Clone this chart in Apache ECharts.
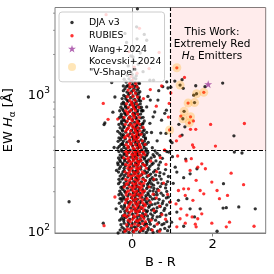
<!DOCTYPE html>
<html><head><meta charset="utf-8">
<script src="https://cdn.jsdelivr.net/npm/echarts@6/dist/echarts.min.js"></script>
<style>html,body{margin:0;padding:0;background:#fff}#c{width:274px;height:274px}</style>
</head><body><div id="c"></div>
<script>
const xMin = -1.92, xMax = 3.32, yMin = 100, yMax = 4400;
const colorCut = 0.95, ewCut = 400;
const xTickValues = [0, 2];
const yMinorTicks = [200,300,400,500,600,700,800,900,2000,3000,4000];

const djaPoints = [
[-0.22,102],[-0.15,104],[-0.08,101],[0.02,103],[0.10,105],[0.18,102],[0.27,104],[0.35,101],[0.47,106],[0.63,103],[0.81,108],
[-0.25,110],[-0.12,112],[-0.03,109],[0.05,111],[0.14,113],[0.22,110],[0.31,114],[0.40,109],[0.55,112],[0.74,115],[0.92,111],
[-0.20,118],[-0.10,121],[0.00,117],[0.08,120],[0.16,119],[0.25,122],[0.33,118],[0.43,121],[0.58,124],[0.86,121],
[-0.27,127],[-0.16,130],[-0.06,126],[0.03,129],[0.12,131],[0.20,127],[0.29,130],[0.38,133],[0.50,128],[0.69,132],
[-0.18,138],[-0.09,141],[0.01,137],[0.09,140],[0.18,143],[0.26,139],[0.36,142],[0.46,138],[0.60,144],[0.79,146],[0.93,139],
[-0.23,150],[-0.13,148],[-0.04,152],[0.06,149],[0.15,153],[0.23,151],[0.32,147],[0.41,154],[0.53,150],[0.70,156],
[-0.19,160],[-0.08,163],[0.02,158],[0.11,162],[0.19,165],[0.28,159],[0.37,164],[0.49,161],[0.64,166],[0.86,160],
[-0.26,171],[-0.14,174],[-0.05,169],[0.04,173],[0.13,176],[0.21,170],[0.30,175],[0.42,172],[0.56,178],[0.77,171],
[-0.21,183],[-0.11,186],[-0.02,181],[0.07,185],[0.16,188],[0.24,182],[0.34,187],[0.45,184],[0.62,190],[0.90,183],
[-0.28,195],[-0.17,198],[-0.07,193],[0.03,197],[0.12,200],[0.20,194],[0.29,199],[0.39,196],[0.52,202],[0.72,195],
[-0.24,208],[-0.12,212],[-0.03,206],[0.08,210],[0.17,214],[0.26,207],[0.36,211],[0.47,216],[0.63,209],[0.83,213],
[-0.19,222],[-0.09,225],[0.01,220],[0.10,224],[0.19,228],[0.28,221],[0.38,226],[0.53,223],[0.74,229],
[-0.30,236],[-0.15,240],[-0.05,234],[0.05,238],[0.14,243],[0.23,236],[0.33,241],[0.44,238],[0.60,245],[0.88,237],
[-0.22,252],[-0.11,256],[-0.01,250],[0.09,254],[0.18,259],[0.27,251],[0.37,257],[0.50,253],[0.68,260],
[-0.26,268],[-0.14,272],[-0.04,266],[0.06,270],[0.15,275],[0.24,267],[0.34,273],[0.46,269],[0.79,270],
[-0.20,285],[-0.08,289],[0.02,283],[0.12,287],[0.21,292],[0.31,284],[0.42,290],[0.57,286],
[-0.29,305],[-0.17,309],[-0.06,302],[0.04,307],[0.13,312],[0.22,304],[0.32,310],[0.44,306],[0.66,313],
[-0.23,322],[-0.12,327],[-0.02,319],[0.08,324],[0.17,330],[0.26,321],[0.37,328],[0.52,323],
[-0.31,340],[-0.18,345],[-0.07,337],[0.03,343],[0.12,349],[0.21,339],[0.30,346],[0.41,341],[0.75,350],
[-0.25,360],[-0.14,366],[-0.04,357],[0.06,363],[0.15,369],[0.25,359],[0.35,365],[0.55,361],
[-0.20,380],[-0.09,386],[0.01,377],[0.10,383],[0.19,390],[0.28,379],[0.39,386],[0.62,381],
[-0.27,405],[-0.15,411],[-0.05,402],[0.05,408],[0.14,415],[0.24,404],[0.35,410],[0.50,418],
[-0.32,428],[-0.20,434],[-0.09,424],[0.01,431],[0.10,438],[0.19,427],[0.29,435],
[-0.24,452],[-0.13,459],[-0.03,448],[0.07,456],[0.16,463],[0.26,451],[0.40,458],
[-0.29,478],[-0.17,486],[-0.06,474],[0.03,482],[0.12,490],[0.22,477],[0.33,485],
[-0.22,505],[-0.10,513],[0.00,501],[0.09,509],[0.18,518],[0.28,504],
[-0.31,535],[-0.16,543],[-0.05,530],[0.05,539],[0.14,548],[0.24,533],[0.36,541],
[-0.25,566],[-0.12,575],[-0.02,561],[0.08,570],[0.17,580],[0.30,565],
[-0.20,600],[-0.08,609],[0.02,594],[0.11,604],[0.21,615],
[-0.27,636],[-0.14,645],[-0.04,629],[0.06,640],[0.16,651],[0.27,633],
[-0.21,673],[-0.09,683],[0.01,666],[0.10,678],[0.22,690],
[-0.28,712],[-0.15,723],[-0.05,705],[0.05,717],[0.15,730],
[-0.19,755],[-0.07,766],[0.03,748],[0.12,760],[0.24,772],
[-0.24,800],[-0.12,812],[-0.02,792],[0.08,806],[0.19,818],
[-0.17,848],[-0.05,860],[0.04,840],[0.14,854],
[-0.22,898],[-0.10,911],[0.00,890],[0.10,905],[0.21,918],
[-0.16,950],[-0.04,965],[0.06,942],[0.16,958],
[-0.21,1005],[-0.09,1020],[0.02,998],[0.12,1012],
[-0.13,1065],[-0.01,1080],[0.09,1055],[0.19,1072],
[-0.18,1125],[-0.06,1142],[0.05,1118],[0.15,1135],
[-0.11,1190],[0.01,1208],[0.11,1182],
[-0.15,1260],[-0.03,1278],[0.07,1250],
[-0.08,1330],[0.04,1348],
[-0.12,1410],[0.00,1430],[0.10,1400],
[-0.05,1500],[0.08,1560],[-0.10,1650],[0.15,1700],[0.02,1800],[-0.03,1950],[0.20,2050],[0.05,2250],[-0.14,2450],[0.12,2600],[0.30,2800],[0.13,4300],
[-0.18,2850],[0.36,2540],[0.02,1920],[0.27,1500],[0.11,3180],[0.44,1300]
];

const djaCoreExtra = [
[-0.30,105],[-0.28,115],[-0.31,124],[-0.24,133],[-0.29,143],[-0.27,156],[-0.32,165],[-0.30,178],[-0.33,190],[-0.31,202],[-0.28,215],[-0.34,229],[-0.33,246],[-0.30,260],[-0.34,278],[-0.32,295],[-0.35,315],[-0.29,331],[-0.34,352],[-0.30,370],[-0.33,392],[-0.36,416],[-0.28,442],[-0.35,466],[-0.33,493],[-0.27,520],[-0.36,551],[-0.30,585],[-0.33,618],[-0.26,655],[-0.32,692],[-0.27,735],[-0.31,778],[-0.28,825],[-0.26,872],[-0.25,955],
[-0.20,107],[0.09,109],[0.24,106],[0.39,105],
[-0.09,116],[0.19,117],[0.36,116],
[-0.21,123],[0.13,125],[0.40,126],
[-0.11,133],[0.18,134],[0.31,135],
[-0.18,144],[0.11,146],[0.38,145],
[-0.19,155],[0.17,157],[0.43,158],
[-0.11,167],[0.09,168],[0.35,169],
[-0.20,177],[0.08,178],[0.34,180],
[-0.25,189],[0.10,191],[0.40,190],
[-0.19,203],[0.16,204],[0.44,203],
[-0.24,217],[0.12,218],[0.39,217],
[-0.20,231],[0.09,232],[0.41,231],
[-0.25,247],[0.12,248],[0.45,246],
[-0.19,263],[0.15,262],[0.42,263],
[-0.23,279],[0.08,280],[0.38,278],
[-0.20,297],[0.14,298],[0.40,296],
[-0.24,316],[0.11,317],[0.36,316],
[-0.19,335],[0.15,334],[0.35,334],
[-0.26,353],[0.09,354],[0.31,353],
[-0.20,373],[0.13,374],[0.37,373],
[-0.25,394],[0.12,393],[0.33,395],
[-0.21,419],[0.15,418],[0.30,419],
[-0.25,443],[0.13,442],[0.35,444],
[-0.22,468],[0.09,469],[0.30,467],
[-0.27,495],[0.11,496],[0.33,494],
[-0.22,522],[0.14,523],[0.30,521],
[-0.24,553],[0.12,554],[0.27,552],
[-0.21,587],[0.09,586],[0.25,588],
[-0.24,620],[0.13,621],[0.26,622],
[-0.19,656],[0.16,657],[0.30,655],
[-0.24,696],[0.10,695],[0.27,697],
[-0.18,737],[0.06,738],[0.21,736],
[-0.22,780],[0.14,781],[0.27,779],
[-0.17,826],[0.09,827],[0.23,825],
[-0.20,875],[0.07,876],[0.20,874],
[-0.12,926],[0.17,925],
[-0.16,985],[0.18,980],
[-0.07,1045],[0.16,1040],[-0.22,1090],[0.13,1100],[-0.14,1170],[0.06,1170],[0.18,1230],[-0.20,1320],[0.09,1330]
];

const djaTail = [
[0.52,101],[0.70,106],[0.88,104],[0.45,116],[0.66,119],[0.79,117],[0.51,134],[0.62,131],[0.84,135],[0.56,141],[0.72,139],[0.48,147],[0.62,153],[0.81,151],[0.57,163],[0.75,164],[0.93,168],[0.50,177],[0.67,176],[0.85,180],[0.55,190],[0.77,188],[0.60,199],[0.86,201],[0.54,211],[0.70,218],[0.48,229],[0.64,232],[0.84,226],[0.53,243],[0.72,247],[0.58,264],[0.90,258],[0.53,278],[0.69,275],[0.65,295],[0.83,290],[0.49,316],[0.59,335],[0.70,328],[0.47,352],[0.68,368],[0.52,372],[0.86,392],[0.57,396]
];

const djaOutliers = [
[-1.09,980],[-1.34,466],[-0.70,617],[-1.57,169],[-0.72,118],[-0.43,980],[-0.36,324],[-0.35,100],[-0.51,1250],[-0.68,634],[-0.45,420],[-0.39,286],[-0.26,178],[-0.21,127],[-0.22,1180],[-0.40,150],[-0.48,760],
[0.16,1245],[0.53,1300],[0.66,1090],[0.45,930],[0.24,786],[0.85,786],[0.71,535],[0.86,1265],[0.39,990],[0.64,930],[0.76,1166],[0.89,1140],[0.52,703],[0.73,664],[0.36,830],[0.56,762],[0.44,630],[0.48,540],[0.62,470],[0.81,745],[0.84,532],[0.99,455],[0.95,470],
[1.06,1280],[1.24,1310],[1.58,1183],[1.81,1166],[2.25,1238],[0.96,1155],[1.27,1134],[1.53,1010],[1.16,620],[1.31,594],[2.53,511],[1.24,517],
[1.19,1197],[1.60,1035],[1.55,892],[1.29,770],[1.26,680],
[0.91,389],[1.07,302],[1.11,278],[1.44,270],[1.28,253],[2.27,229],[1.61,294],[1.36,178],[1.15,173],[1.44,150],[1.69,150],[2.26,152],[2.34,153],[2.65,155],[3.06,150],[1.55,131],[1.28,112],[2.11,103],[1.11,142],[1.33,346],[2.54,389],[2.73,383],[1.00,360],[1.02,230],[0.98,120]
];

const rubiesPoints = [
[-0.18,103],[-0.06,106],[0.04,102],[0.12,107],[0.21,104],[0.30,108],[0.50,105],[0.68,103],
[-0.14,115],[-0.02,113],[0.07,116],[0.16,114],[0.26,117],[0.36,112],[0.62,116],
[-0.10,124],[0.01,126],[0.10,123],[0.19,125],[0.29,127],[0.47,124],[0.83,126],
[-0.21,134],[-0.07,135],[0.04,133],[0.13,136],[0.23,134],[0.33,137],[0.74,136],
[-0.13,145],[-0.01,146],[0.08,144],[0.18,147],[0.28,145],[0.54,146],
[-0.09,156],[0.03,155],[0.12,157],[0.22,154],[0.33,158],[0.68,157],
[-0.17,166],[-0.03,167],[0.07,165],[0.16,168],[0.26,166],[0.45,167],[0.95,168],
[-0.11,178],[0.00,179],[0.10,177],[0.19,180],[0.37,178],[0.60,180],
[-0.15,190],[-0.04,191],[0.06,189],[0.15,192],[0.25,190],[0.52,192],[0.88,191],
[-0.09,203],[0.02,204],[0.11,202],[0.21,205],[0.31,203],[0.66,204],
[-0.20,216],[-0.06,217],[0.05,215],[0.14,218],[0.24,216],[0.42,217],
[-0.12,230],[0.00,231],[0.09,229],[0.18,232],[0.29,230],[0.78,231],
[-0.16,246],[-0.04,247],[0.07,245],[0.17,248],[0.27,246],[0.54,247],
[-0.09,262],[0.03,263],[0.12,261],[0.21,264],[0.40,262],
[-0.18,279],[-0.06,280],[0.04,278],[0.14,281],[0.25,279],[0.61,280],
[-0.11,297],[0.00,298],[0.10,296],[0.19,299],[0.35,297],
[-0.16,316],[-0.04,317],[0.07,315],[0.16,318],[0.27,316],[0.84,316],
[-0.08,334],[0.03,335],[0.13,333],[0.22,336],[0.46,334],
[-0.21,353],[-0.09,354],[0.01,352],[0.11,355],[0.20,353],[0.70,354],
[-0.13,373],[-0.01,374],[0.08,372],[0.18,375],[0.31,373],
[-0.17,393],[-0.05,394],[0.05,392],[0.15,395],[0.25,393],[0.80,402],
[-0.10,418],[0.02,419],[0.12,417],[0.21,420],
[-0.15,442],[-0.03,443],[0.08,441],[0.18,444],[0.32,442],
[-0.08,468],[0.03,469],[0.14,467],[0.25,470],
[-0.19,495],[-0.06,496],[0.05,494],[0.15,497],
[-0.11,522],[0.00,523],[0.11,521],[0.22,524],
[-0.16,553],[-0.04,554],[0.08,552],[0.19,555],
[-0.09,586],[0.03,587],[0.14,585],[0.27,588],
[-0.17,620],[-0.05,621],[0.06,619],[0.18,622],
[-0.12,656],[0.00,657],[0.12,655],
[-0.20,695],[-0.07,696],[0.05,694],[0.17,697],
[-0.11,737],[0.01,738],[0.13,736],
[-0.16,780],[-0.04,781],[0.08,779],
[-0.09,826],[0.03,827],[0.16,825],
[-0.14,875],[-0.01,876],[0.11,874],
[-0.06,925],[0.07,926],
[-0.12,985],[0.02,990],[0.13,980],
[-0.04,1045],[0.08,1040],
[-0.10,1100],[0.04,1095],
[0.00,1165],[0.12,1160],
[-0.06,1230],[0.09,1225],
[0.01,1300],[-0.03,1380],[0.12,1460],[0.05,1620],[-0.08,2100],[0.18,3100]
];

const rubiesCoreExtra = [
[-0.12,107],[0.08,106],[0.26,107],
[-0.05,121],[0.14,122],[0.33,121],
[-0.14,131],[0.07,131],[0.25,132],
[-0.05,142],[0.14,143],
[-0.13,152],[0.08,151],[0.27,152],
[-0.06,162],[0.13,161],[0.31,162],
[-0.15,174],[0.05,173],[0.25,174],
[0.02,187],[0.20,188],
[-0.13,199],[0.07,198],[0.26,199],
[0.00,213],[0.19,214],
[-0.15,226],[0.05,225],[0.23,226],
[-0.08,241],[0.12,240],[0.32,241],
[-0.03,258],[0.16,259],
[-0.10,273],[0.09,272],[0.29,273],
[-0.04,292],[0.15,293],
[-0.09,311],[0.11,310],[0.31,311],
[-0.03,329],[0.17,330],
[-0.12,347],[0.09,346],
[0.02,367],[0.22,368],
[-0.13,387],[0.08,386],[0.28,387],
[0.04,409],[-0.11,430],[0.19,432],[-0.04,456],[0.10,481],[-0.15,508],[0.05,507],[0.12,537],[-0.13,569],[0.07,568],[-0.01,604],[0.13,637],[-0.03,676],[0.04,717],[-0.12,758],[0.05,804],[0.01,851],[-0.02,900]
];

const rubiesOutliers = [
[-0.72,880],[-0.60,674],[-0.70,113],[-0.43,183],[-0.36,676],[-0.65,3900],[-0.18,135],[-0.06,1166],
[0.28,955],[0.45,1110],[0.60,840],[0.73,1180],[0.67,2070],[0.42,1580],[0.92,880],[0.90,700],[0.81,402],
[1.30,1360],[0.96,1050],[1.21,711],[1.52,656],[1.45,570],[1.58,570],[1.95,618],[2.79,628],[1.19,508],[1.10,470],[1.50,438],[1.53,421],[2.07,430],
[1.11,1600],[1.78,1060],[1.39,885],[1.45,703],[1.42,635],[0.93,563],
[1.13,364],[1.34,335],[1.47,348],[1.63,302],[1.73,319],[1.82,294],[1.44,286],[1.98,235],[2.46,273],[2.77,225],[1.59,242],[1.69,204],[1.28,210],[1.40,210],[1.15,204],[1.78,193],[2.11,204],[2.37,188],[2.17,178],[1.32,188],[1.51,173],[1.09,163],[1.21,150],[1.36,135],[1.49,131],[1.63,127],[1.73,138],[1.19,127],[1.32,118],[1.57,116],[1.59,111],[1.98,118],[2.42,120],[2.34,111],[3.03,112],[1.11,111]
];

const wangPoints = [[1.89,1216]];
const kocevskiPoints = [[1.11,1600],[1.19,1197],[1.60,1035],[1.78,1060],[1.39,885],[1.55,892],[1.29,770],[1.45,703],[1.26,680],[1.42,635],[0.93,563]];

const seriesNames = ['DJA v3','RUBIES','Wang+2024','Kocevski+2024\n"V-Shape"'];

const FONT = 'DejaVu Sans';
const starPath = 'path://M5,0L6.12,3.45L9.76,3.45L6.82,5.59L7.94,9.05L5,6.91L2.06,9.05L3.18,5.59L0.24,3.45L3.88,3.45Z';
const legDot = 'path://M0,0M18,12M4.3,6A1.7,1.7,0,1,0,7.7,6A1.7,1.7,0,1,0,4.3,6Z';
const legStar = 'path://M0,0M18,12M6,1.8L6.94,4.71L9.99,4.7L7.52,6.49L8.47,9.4L6,7.6L3.53,9.4L4.48,6.49L2.01,4.7L5.06,4.71Z';
const legCircle = 'path://M0,0M18,12M2,6A4,4,0,1,0,10,6A4,4,0,1,0,2,6Z';
const axisGray = '#808080';

const chart = echarts.init(document.getElementById('c'), null, {renderer: 'canvas'});
chart.setOption({
  animation: false,
  grid: {left: 55, right: 8.3, top: 7.5, bottom: 41, containLabel: false, outerBoundsMode: 'none',
         show: true, borderColor: axisGray, borderWidth: 1, backgroundColor: 'transparent'},
  xAxis: {
    type: 'value', min: xMin, max: xMax,
    name: 'B - R', nameLocation: 'middle', nameGap: 14,
    nameTextStyle: {fontFamily: FONT, fontSize: 13, color: '#000'},
    axisLine: {show: true, lineStyle: {color: axisGray}},
    axisTick: {show: true, length: 3.5, lineStyle: {color: axisGray}, customValues: xTickValues},
    axisLabel: {fontFamily: FONT, fontSize: 13, color: '#000', margin: 5, customValues: xTickValues},
    splitLine: {show: false}
  },
  yAxis: {
    type: 'log', logBase: 10, min: yMin, max: yMax,
    name: 'EW {i|H}{sub|α} [Å]', nameLocation: 'middle', nameGap: 22, nameRotate: 90,
    nameTextStyle: {fontFamily: FONT, fontSize: 13, color: '#000', lineHeight: 16,
      rich: {i: {fontFamily: FONT, fontSize: 13, fontStyle: 'italic', lineHeight: 16},
             sub: {fontFamily: FONT, fontSize: 9, lineHeight: 9, verticalAlign: 'bottom'}}},
    axisLine: {show: true, lineStyle: {color: axisGray}},
    axisTick: {show: true, length: 3.5, lineStyle: {color: axisGray}},
    axisLabel: {
      margin: 5, showMaxLabel: false,
      formatter: v => (Math.abs(v - 100) < 1e-6 ? '{b|10}{s|2}' : Math.abs(v - 1000) < 1e-6 ? '{b|10}{s|3}' : ''),
      rich: {b: {fontFamily: FONT, fontSize: 13, color: '#000', lineHeight: 20},
             s: {fontFamily: FONT, fontSize: 9, color: '#000', lineHeight: 9, verticalAlign: 'top'}}
    },
    splitLine: {show: false}
  },
  legend: {
    orient: 'vertical', left: 59, top: 12,
    padding: [4.5, 3, 4, 7], itemGap: 1.3, itemWidth: 18, itemHeight: 12,
    backgroundColor: 'rgba(255,255,255,0.8)', borderColor: '#cccccc', borderWidth: 1, borderRadius: 3,
    textStyle: {fontFamily: FONT, fontSize: 9.4, color: '#000', lineHeight: 10.7},
    selectedMode: false,
    data: [
      {name: seriesNames[0], icon: legDot, itemStyle: {color: '#000'}},
      {name: seriesNames[1], icon: legDot, itemStyle: {color: '#ff0000'}},
      {name: seriesNames[2], icon: legStar, itemStyle: {color: 'rgba(128,0,128,0.75)'}},
      {name: seriesNames[3], icon: legCircle, itemStyle: {color: 'rgba(255,165,0,0.35)'}}
    ]
  },
  graphic: [{
    type: 'text', x: 212, y: 26.5, z: 10,
    style: {
      text: 'This Work:\nExtremely Red\n{i|H}{sub|α} Emitters',
      fontFamily: FONT, fontSize: 10.5, fill: '#000', align: 'center', verticalAlign: 'top', lineHeight: 11.8,
      rich: {i: {fontFamily: FONT, fontSize: 10.5, fontStyle: 'italic', lineHeight: 11.8},
             sub: {fontFamily: FONT, fontSize: 7.5, lineHeight: 7.5, verticalAlign: 'bottom'}}
    }
  }],
  series: [
    {
      type: 'scatter', name: '_guides', data: [], z: 1, silent: true,
      markArea: {silent: true, itemStyle: {color: 'rgba(255,0,0,0.075)'},
        data: [[{xAxis: colorCut, yAxis: ewCut}, {xAxis: xMax, yAxis: yMax}]]},
      markLine: {silent: true, symbol: 'none', label: {show: false},
        lineStyle: {color: '#000', type: [4, 2], width: 1.1},
        data: [{xAxis: colorCut}, {yAxis: ewCut}]}
    },
    {type: 'scatter', name: seriesNames[0], data: djaPoints.concat(djaCoreExtra, djaTail, djaOutliers), symbol: 'circle', symbolSize: 3.3, z: 2,
     itemStyle: {color: '#000'}, silent: true},
    {type: 'scatter', name: seriesNames[1], data: rubiesPoints.concat(rubiesCoreExtra, rubiesOutliers), symbol: 'circle', symbolSize: 3.3, z: 3,
     itemStyle: {color: '#ff0000'}, silent: true},
    {type: 'scatter', name: seriesNames[2], data: wangPoints, symbol: starPath, symbolSize: 8, z: 4,
     itemStyle: {color: 'rgba(128,0,128,0.75)'}, silent: true},
    {type: 'scatter', name: seriesNames[3], data: kocevskiPoints, symbol: 'circle', symbolSize: 9, z: 4,
     itemStyle: {color: 'rgba(255,165,0,0.35)'}, silent: true},
    {type: 'custom', name: '_minorTicks', z: 5, silent: true, clip: false,
     data: yMinorTicks.map(v => [xMin, v]),
     renderItem: (params, api) => {
       const p = api.coord([api.value(0), api.value(1)]);
       return {type: 'line', shape: {x1: p[0] - 2, y1: p[1], x2: p[0], y2: p[1]},
               style: {stroke: axisGray, lineWidth: 0.8}};
     }}
  ]
});
</script>
</body></html>
